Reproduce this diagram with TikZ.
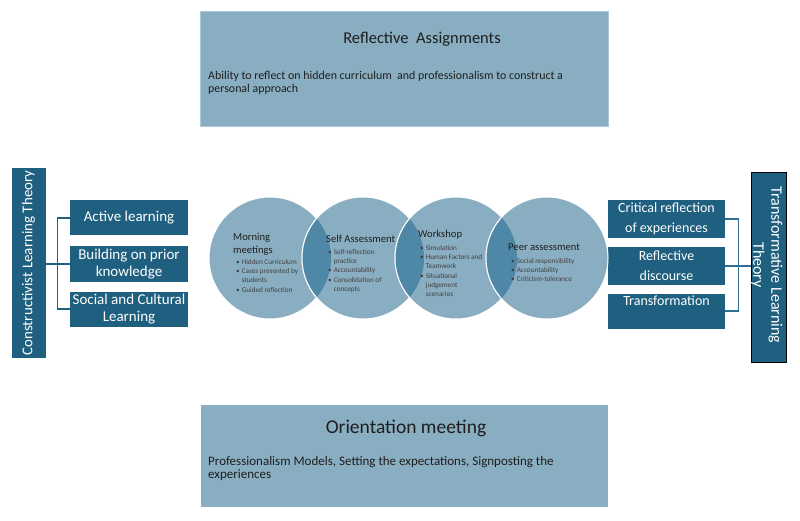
\documentclass[tikz,border=0pt]{standalone}
\usepackage{fontspec}
\setmainfont{Carlito}
\usetikzlibrary{positioning}

\definecolor{paleblue}{HTML}{8AAEC1}
\definecolor{paleedge}{HTML}{A9C8DC}
\definecolor{deepblue}{HTML}{1F5F7F}
\definecolor{lensblue}{HTML}{4F88A6}
\definecolor{linkblue}{HTML}{2E6F93}
\definecolor{inktext}{HTML}{1E1E1E}

\newcommand{\stbul}{\textbullet\hspace{2pt}}
\newcommand{\stgap}{\hphantom{\textbullet\hspace{2pt}}}

\begin{document}
\begin{tikzpicture}[%
    x=1pt,
    y=-1pt,
    infobox/.style={%
      draw=paleedge,
      line width=0.8pt,
      fill=paleblue,
      minimum width=408pt,
      inner sep=0pt
    },
    theorybar/.style={%
      fill=deepblue,
      minimum width=34pt,
      minimum height=190pt,
      inner sep=0pt
    },
    leftbox/.style={%
      fill=deepblue,
      text=white,
      align=center,
      minimum width=118pt,
      minimum height=35pt,
      inner sep=0pt,
      font=\fontsize{15}{17}\selectfont
    },
    rightbox/.style={%
      fill=deepblue,
      text=white,
      align=center,
      minimum width=117pt,
      minimum height=36pt,
      inner sep=0pt,
      font=\fontsize{14}{20}\selectfont
    },
    stage/.style={%
      circle,
      fill=paleblue,
      draw=white,
      line width=1pt,
      minimum size=122pt,
      inner sep=0pt
    },
    stagetitle/.style={%
      anchor=base west,
      inner sep=0pt,
      align=left,
      text=inktext,
      font=\fontsize{10.6}{13}\selectfont
    },
    stagelist/.style={%
      anchor=base west,
      inner sep=0pt,
      align=left,
      text=inktext!85,
      font=\fontsize{7.2}{9.2}\selectfont
    },
    link/.style={%
      draw=linkblue,
      line width=1.2pt
    }
  ]
    \useasboundingbox (0,0) rectangle (800,521);

    % top and bottom panels (base = last line of a block)
    \node[infobox, minimum height=115pt, anchor=north west] (assign) at (200,11) {};
    \node[anchor=base, inner sep=0pt, text=inktext, font=\fontsize{16.5}{19}\selectfont]
      (assigntitle) at (422,44) {Reflective\ \ Assignments};
    \node[anchor=base west, inner sep=0pt, align=left, text=inktext, font=\fontsize{11.9}{13}\selectfont]
      (assigntext) at (208,93) {Ability to reflect on hidden curriculum\ \ and professionalism to construct a\\personal approach};

    \node[infobox, draw=white, minimum height=103pt, anchor=north west] (orient) at (200,404) {};
    \node[anchor=base, inner sep=0pt, text=inktext, font=\fontsize{19.5}{22}\selectfont]
      (orienttitle) at (406,433) {Orientation meeting};
    \node[anchor=base west, inner sep=0pt, align=left, text=inktext, font=\fontsize{13}{13.5}\selectfont]
      (orienttext) at (208,478.5) {Professionalism Models, Setting the expectations, Signposting the\\experiences};

    % constructivist side
    \node[theorybar] (cltbar) at (28.5,263) {};
    \node[rotate=90, text=white, inner sep=0pt, font=\fontsize{15}{17}\selectfont]
      (cltlabel) at (cltbar.center) {Constructivist Learning Theory};
    \node[leftbox] (active) at (129,218) {Active learning};
    \node[leftbox] (prior)  at (129,264) {Building on prior\\knowledge};
    \node[leftbox] (social) at (129,309) {Social and Cultural\\Learning};

    \draw[link, draw=deepblue] (cltbar.east |- prior.west) -- (prior.west);
    \draw[link, draw=deepblue] (active.west) -- ++(-12,0) |- (social.west);

    % transformative side
    \node[theorybar, draw=black, line width=0.8pt, minimum width=35pt] (tltbar) at (768.5,267) {};
    \node[rotate=-90, text=white, inner sep=0pt, align=center, font=\fontsize{16}{18}\selectfont]
      (tltlabel) at ([xshift=-2pt,yshift=2pt]tltbar.center) {Transformative Learning\\Theory};
    \node[rightbox, minimum height=38pt] (critical) at (666.5,219) {Critical reflection\\of experiences};
    \node[rightbox, minimum height=37pt] (discourse) at (666.5,266) {Reflective\\discourse};
    \node[rightbox, minimum height=35pt] (transform) at (666.5,311) {Transformation\\\mbox{}};

    \draw[link] (discourse.east) -- (tltbar.west |- discourse.east);
    \draw[link] (critical.east) -- ++(13,0) |- (transform.east);

    % the four stages
    \node[stage] (morning) at (270,258) {};
    \node[stage] (selfas)  at (363,258) {};
    \node[stage] (workshop) at (456,258) {};
    \node[stage] (peer)    at (547,258) {};

    \begin{scope}
      \clip (morning.center) circle (61pt);
      \fill[lensblue] (selfas.center) circle (61pt);
      \draw[white, line width=1pt] (selfas.center) circle (61pt);
    \end{scope}
    \begin{scope}
      \clip (selfas.center) circle (61pt);
      \fill[lensblue] (workshop.center) circle (61pt);
      \draw[white, line width=1pt] (workshop.center) circle (61pt);
    \end{scope}
    \begin{scope}
      \clip (workshop.center) circle (61pt);
      \fill[lensblue] (peer.center) circle (61pt);
      \draw[white, line width=1pt] (peer.center) circle (61pt);
    \end{scope}

    \node[stagetitle] (morningtitle) at (233,254) {Morning\\meetings};
    \node[stagelist]  (morninglist)  at (236,292.1)
      {\stbul Hidden Curriculum\\\stbul Cases presented by\\\stgap students\\\stbul Guided reflection};

    \node[stagetitle] (selfastitle) at (326,243) {Self Assessment};
    \node[stagelist]  (selfaslist)  at (328,291.3)
      {\stbul Self-reflection\\\stgap practice\\\stbul Accountability\\\stbul Consolidation of\\\stgap concepts};

    \node[stagetitle] (workshoptitle) at (418,238) {Workshop};
    \node[stagelist]  (workshoplist)  at (420,296.5)
      {\stbul Simulation\\\stbul Human Factors and\\\stgap Teamwork\\\stbul Situational\\\stgap judgement\\\stgap scenarios};

    \node[stagetitle] (peertitle) at (508,251) {Peer assessment};
    \node[stagelist]  (peerlist)  at (511,281.9)
      {\stbul Social responsibility\\\stbul Accountability\\\stbul Criticism-tolerance};
  \end{tikzpicture}
\end{document}
